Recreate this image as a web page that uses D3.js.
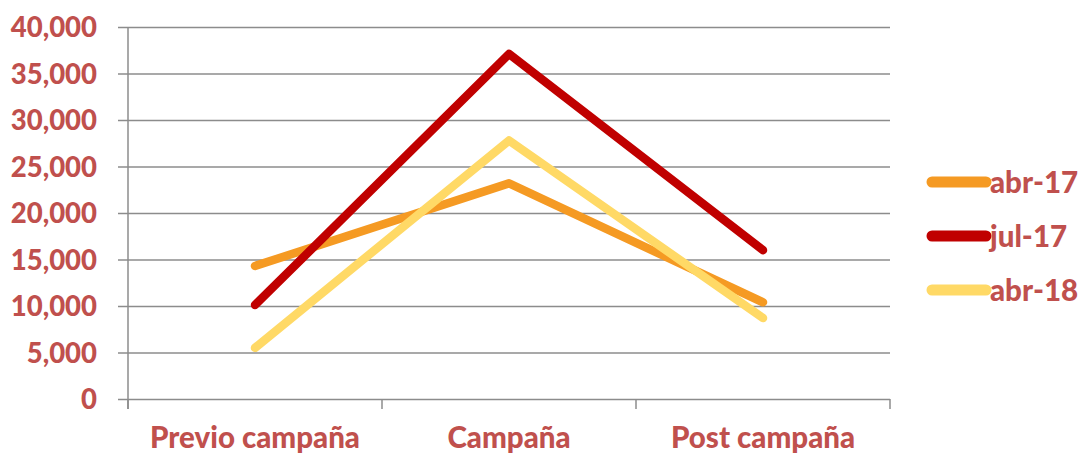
<!DOCTYPE html>
<html>
<head>
<meta charset="utf-8">
<script src="https://cdn.jsdelivr.net/npm/d3@7"></script>
<style>
  body { margin: 0; background: #fff; }
  svg text { font-family: Lato, "Open Sans", sans-serif; font-weight: 900; fill: #C0504D; }
</style>
</head>
<body>
<div id="chart"></div>
<script>
// data
const categories = ["Previo campaña", "Campaña", "Post campaña"];
const seriesNames = ["abr-17", "jul-17", "abr-18"];
const seriesColors = ["#F59A23", "#C00000", "#FFD966"];
const abr17 = [14300, 23200, 10400];
const jul17 = [10100, 37100, 16000];
const abr18 = [5500, 27800, 8700];
const yTicks = [0, 5000, 10000, 15000, 20000, 25000, 30000, 35000, 40000];

const width = 1084, height = 455;
const plot = {left: 128, right: 890, top: 27, bottom: 399};

const svg = d3.select("#chart").append("svg")
    .attr("width", width)
    .attr("height", height);

const x = d3.scaleBand()
    .domain(categories)
    .range([plot.left, plot.right]);

const y = d3.scaleLinear()
    .domain([0, 40000])
    .range([plot.bottom, plot.top]);

// gridlines + y labels
const yAxis = svg.append("g")
    .attr("transform", `translate(${plot.left},0)`)
    .call(d3.axisLeft(y).tickValues(yTicks)
        .tickSize(-(plot.right - plot.left))
        .tickPadding(31)
        .tickFormat(d3.format(",")));
yAxis.select(".domain").remove();
yAxis.selectAll(".tick line")
    .attr("x1", -10)
    .attr("stroke", "#8c8c8c")
    .attr("stroke-width", 1.5);
yAxis.selectAll(".tick text")
    .attr("font-size", 27.5)
    .attr("dy", "0.36em");

// vertical axis line
svg.append("line")
    .attr("x1", plot.left).attr("x2", plot.left)
    .attr("y1", plot.top).attr("y2", plot.bottom + 10)
    .attr("stroke", "#8c8c8c")
    .attr("stroke-width", 1.5);

// bottom axis with category boundary ticks
const xAxis = svg.append("g")
    .attr("transform", `translate(0,${plot.bottom})`)
    .call(d3.axisBottom(x).tickSize(0).tickPadding(28));
xAxis.select(".domain").remove();
xAxis.selectAll(".tick text")
    .attr("font-size", 29.5)
    .attr("dy", "0.71em");

const bounds = categories.map(c => x(c)).concat([x(categories[categories.length - 1]) + x.bandwidth()]);
svg.append("g").selectAll("line")
    .data(bounds)
    .join("line")
    .attr("x1", d => d).attr("x2", d => d)
    .attr("y1", plot.bottom).attr("y2", plot.bottom + 10)
    .attr("stroke", "#8c8c8c")
    .attr("stroke-width", 1.5);

// lines
const series = [abr17, jul17, abr18];
const line = d3.line()
    .x((d, i) => x(categories[i]) + x.bandwidth() / 2)
    .y(d => y(d));

svg.append("g").selectAll("path")
    .data(series)
    .join("path")
    .attr("d", d => line(d))
    .attr("fill", "none")
    .attr("stroke", (d, i) => seriesColors[i])
    .attr("stroke-width", 8.5)
    .attr("stroke-linecap", "round")
    .attr("stroke-linejoin", "round");

// legend
const legend = svg.append("g")
    .attr("transform", "translate(932,182)");
const item = legend.selectAll("g")
    .data(seriesNames)
    .join("g")
    .attr("transform", (d, i) => `translate(0,${i * 54})`);
item.append("line")
    .attr("x1", 0).attr("x2", 54)
    .attr("stroke", (d, i) => seriesColors[i])
    .attr("stroke-width", 11)
    .attr("stroke-linecap", "round");
item.append("text")
    .attr("x", 58)
    .attr("dy", "0.36em")
    .attr("font-size", 29.5)
    .text(d => d);
</script>
</body>
</html>
